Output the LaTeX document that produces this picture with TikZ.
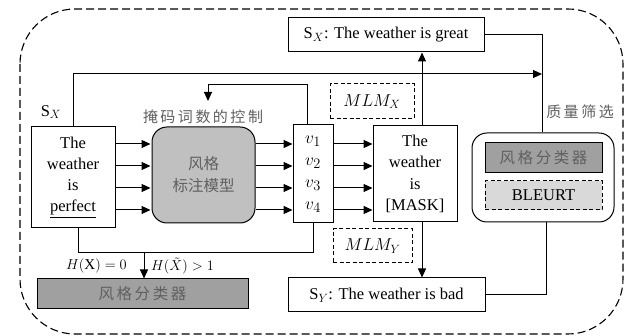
\documentclass[tikz,border=0pt]{standalone}
\usepackage{fontspec}
\setmainfont{Liberation Serif}
\newfontfamily\cjk{Noto Sans CJK SC}
\usetikzlibrary{arrows.meta,calc}
\definecolor{boxgray}{HTML}{C0C0C0}
\definecolor{clsgray}{HTML}{A0A0A0}
\definecolor{lightgray}{HTML}{D9D9D9}
\definecolor{txtgray}{HTML}{606060}
\tikzset{
  box/.style={draw, line width=1pt, inner sep=0pt, align=center},
  dbox/.style={box, dash pattern=on 4pt off 2.5pt},
  arr/.style={line width=1pt, -{Triangle[length=9pt,width=8pt]}},
  ln/.style={line width=1pt},
  cjktext/.style={font=\cjk\fontsize{15.5}{22}\selectfont, text=txtgray},
  lbl/.style={font=\cjk\fontsize{15}{18}\selectfont, text=txtgray},
  hlbl/.style={font=\fontsize{15}{18}\selectfont, inner sep=1pt},
}
\begin{document}
\begin{tikzpicture}[x=1pt,y=-1pt, font=\fontsize{16.5}{21}\selectfont]
\useasboundingbox (0,0) rectangle (632,336);
% outer dashed frame
\draw[line width=1.1pt, dash pattern=on 8pt off 4pt, rounded corners=55pt] (20,9) rectangle (623,334);

% nodes
\node[box, minimum width=84pt, minimum height=101pt] (inp) at (73,177.5) {The\\weather\\is\\\underline{perfect}};
\node[box, rounded corners=15pt, fill=boxgray, minimum width=103pt, minimum height=96pt, cjktext] (sty) at (203.5,175) {风格\\标注模型};
\node[box, minimum width=40pt, minimum height=98pt, font=\fontsize{19}{22}\selectfont] (vbox) at (313,174) {$v_1$\\$v_2$\\$v_3$\\$v_4$};
\node[box, minimum width=84pt, minimum height=96pt, font=\fontsize{16.5}{21.5}\selectfont] (mask) at (415,174) {The\\weather\\is\\{[MASK]}};
\node[box, minimum width=196pt, minimum height=34pt] (great) at (386,35) {S$_X$: The weather is great};
\node[box, minimum width=197pt, minimum height=34pt] (bad) at (386.5,295) {S$_Y$: The weather is bad};
\node[dbox, minimum width=84pt, minimum height=35pt, font=\fontsize{18}{20}\selectfont] (mlmx) at (372,101.5) {$MLM_X$};
\node[dbox, minimum width=79pt, minimum height=34pt, font=\fontsize{18}{20}\selectfont] (mlmy) at (372.5,246) {$MLM_Y$};
\node[box, rounded corners=15pt, fill=white, minimum width=142pt, minimum height=89pt] (qual) at (543,177.5) {};
\node[box, fill=clsgray, minimum width=117pt, minimum height=30pt, cjktext] (cls2) at (543.5,158) {风\,格\,分\,类\,器};
\node[dbox, fill=lightgray, minimum width=117pt, minimum height=29pt] (bleurt) at (543.5,195.5) {BLEURT};
\node[box, fill=clsgray, minimum width=211pt, minimum height=30pt, cjktext] (cls1) at (142.5,294) {风\,格\,分\,类\,器};

% labels
\node (sx) at (51,112) {S$_X$};
\node[lbl] (ctl) at (203,117) {掩\,码\,词\,数\,的\,控\,制};
\node[lbl] (ql) at (580,112) {质\,量\,筛\,选};
\node[hlbl, anchor=east] (h0) at (128,266) {$H(\mathrm{X})=0$};
\node[hlbl, anchor=west] (h1) at (150,266) {$H(\tilde{X})>1$};

% row coordinates
\coordinate (r1) at (0,144);
\coordinate (r2) at (0,166);
\coordinate (r3) at (0,188);
\coordinate (r4) at (0,210);
\foreach \r in {r1,r2,r3,r4}{
  \draw[arr] (inp.east |- \r) -- ($(sty.west |- \r)+(-1,0)$);
  \draw[arr] (sty.east |- \r) -- (vbox.west |- \r);
  \draw[arr] (vbox.east |- \r) -- (mask.west |- \r);
}

% top feedback
\coordinate (tj) at (542,74);
\draw[arr] (inp.north) |- (tj);
\draw[ln] (great.east) -| (qual.north -| tj);
\coordinate (bj) at (546,295);
\draw[ln] (bad.east) -- (bj) -- (qual.south -| bj);

% mask to outputs
\draw[arr] ($(mask.north)+(7,0)$) -- ($(great.south)+(36,0)$);
\draw[arr] ($(mask.south)+(7,0)$) -- ($(bad.north)+(35.5,0)$);

% control arrow
\coordinate (ct) at (208,85);
\coordinate (ce) at (208,101);
\draw[ln] ($(vbox.north)+(-6,0)$) |- (ct);
\draw[arr] (ct) -- (ce);

% bottom
\coordinate (bl) at (78,253);
\coordinate (br) at (313,253);
\coordinate (bm) at (144,253);
\draw[ln] ($(inp.south)+(5,0)$) -- (bl) -- (br) -- (vbox.south);
\draw[arr] (bm) -- (bm |- cls1.north);
\end{tikzpicture}
\end{document}
